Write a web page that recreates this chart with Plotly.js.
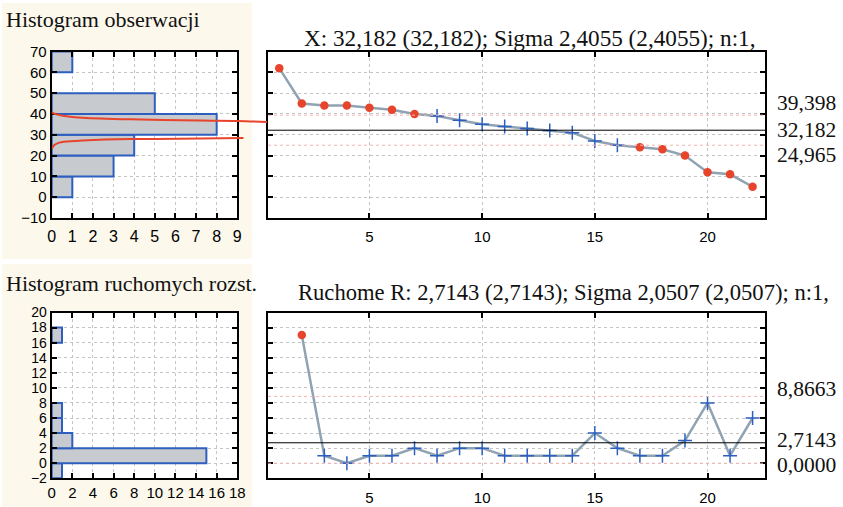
<!DOCTYPE html>
<html>
<head>
<meta charset="utf-8">
<script src="https://cdn.plot.ly/plotly-3.0.1.min.js"></script>
<style>html,body{margin:0;padding:0;background:#fff;}#chart{width:843px;height:507px;}</style>
</head>
<body>
<div id="chart"></div>
<script>
// ---------- data ----------
const sampleNo = [1,2,3,4,5,6,7,8,9,10,11,12,13,14,15,16,17,18,19,20,21,22];
const observations = [62,45,44,44,43,42,40,39,37,35,34,33,32,31,27,25,24,23,20,12,11,5];
const mrSampleNo = [2,3,4,5,6,7,8,9,10,11,12,13,14,15,16,17,18,19,20,21,22];
const movingRanges = [17,1,0,1,1,2,1,2,2,1,1,1,1,4,2,1,1,3,8,1,6];

const obsBinCenters = [5,15,25,35,45,65];
const obsBinCounts  = [1,3,4,8,5,1];
const mrBinCenters  = [-1,1,3,5,7,17];
const mrBinCounts   = [1,15,2,1,1,1];

const curveUpperX = [0,0.1,0.32,0.8,1.5,3.8,7.2,9.0,10.45];
const curveUpperY = [40.9,40.2,39.6,38.8,38.2,37.4,36.8,36.6,36.1];
const curveLowerX = [0,0.1,0.3,0.8,1.5,3.8,7.2,9.3];
const curveLowerY = [23.2,24.8,26.0,26.8,27.2,27.9,28.2,28.4];

const xCenter = 32.182, xUCL = 39.398, xLCL = 24.965;
const rCenter = 2.7143, rUCL = 8.8663, rLCL = 0.0;
const xLabels = ['39,398','32,182','24,965'];
const rLabels = ['8,8663','2,7143','0,0000'];
const titleX = 'X: 32,182 (32,182); Sigma 2,4055 (2,4055); n:1,';
const titleR = 'Ruchome R: 2,7143 (2,7143); Sigma 2,0507 (2,0507); n:1,';

// ---------- geometry ----------
const W = 843, H = 507;
const px = v => v / W;
const py = v => 1 - v / H;
const histX = [px(51.7), px(237.3)];
const ctrlX = [px(268), px(765)];
const topY = [py(218), py(51.5)];
const botY = [py(478.3), py(312.5)];

const RED = '#e8432b', BLUE = '#2c5fbf', LINE = '#8fa3b3', GRID = '#c4c4c4';
const SANS = 'Liberation Sans, Arial, sans-serif';
const SERIF = 'Liberation Serif, Times New Roman, serif';

function axisBase(extra) {
  return Object.assign({
    showline: true, linecolor: '#000', linewidth: 2, mirror: 'ticks',
    ticks: 'inside', ticklen: 5, tickcolor: '#000', tickwidth: 2,
    showgrid: true, gridcolor: GRID, griddash: 'dot', gridwidth: 1,
    zeroline: false, fixedrange: true,
    tickfont: {family: SANS, size: 15, color: '#000'}
  }, extra);
}

function split(xs, ys, lo, hi) {
  const inn = {x: [], y: []}, out = {x: [], y: []};
  xs.forEach((x, i) => {
    const v = ys[i];
    if (v > hi || v < lo) { out.x.push(x); out.y.push(v); }
    else { inn.x.push(x); inn.y.push(v); }
  });
  return {inn, out};
}
const sx = split(sampleNo, observations, xLCL, xUCL);
const sr = split(mrSampleNo, movingRanges, rLCL, rUCL);

const traces = [
  // histograms
  {type: 'bar', orientation: 'h', x: obsBinCounts, y: obsBinCenters, width: 10,
   marker: {color: '#c7cbcf', line: {color: BLUE, width: 2}}, xaxis: 'x', yaxis: 'y', hoverinfo: 'none'},
  {type: 'bar', orientation: 'h', x: mrBinCounts, y: mrBinCenters, width: 2,
   marker: {color: '#c7cbcf', line: {color: BLUE, width: 2}}, xaxis: 'x3', yaxis: 'y3', hoverinfo: 'none'},
  // X chart
  {type: 'scatter', mode: 'lines', x: sampleNo, y: observations, line: {color: LINE, width: 2.5},
   xaxis: 'x2', yaxis: 'y2', hoverinfo: 'none'},
  {type: 'scatter', mode: 'markers', x: sx.inn.x, y: sx.inn.y,
   marker: {symbol: 'cross-thin', size: 10, line: {color: BLUE, width: 1.5}}, xaxis: 'x2', yaxis: 'y2', hoverinfo: 'none'},
  {type: 'scatter', mode: 'markers', x: sx.out.x, y: sx.out.y,
   marker: {symbol: 'circle', size: 8.5, color: RED}, xaxis: 'x2', yaxis: 'y2', hoverinfo: 'none'},
  // R chart
  {type: 'scatter', mode: 'lines', x: mrSampleNo, y: movingRanges, line: {color: LINE, width: 2.5},
   xaxis: 'x4', yaxis: 'y4', hoverinfo: 'none'},
  {type: 'scatter', mode: 'markers', x: sr.inn.x, y: sr.inn.y,
   marker: {symbol: 'cross-thin', size: 10, line: {color: BLUE, width: 1.5}}, xaxis: 'x4', yaxis: 'y4', hoverinfo: 'none'},
  {type: 'scatter', mode: 'markers', x: sr.out.x, y: sr.out.y,
   marker: {symbol: 'circle', size: 8.5, color: RED}, xaxis: 'x4', yaxis: 'y4', hoverinfo: 'none'},
  // normal curve (on an overlay axis so it may spill past the frame)
  {type: 'scatter', mode: 'lines', x: curveUpperX, y: curveUpperY, line: {color: RED, width: 2, shape: 'spline'},
   xaxis: 'x5', yaxis: 'y5', hoverinfo: 'none'},
  {type: 'scatter', mode: 'lines', x: curveLowerX, y: curveLowerY, line: {color: RED, width: 2, shape: 'spline'},
   xaxis: 'x5', yaxis: 'y5', hoverinfo: 'none'}
];

const CREAM = '#fcf8ec';
const LIM = '#f4b4b4';
const shapes = [
  {type: 'rect', xref: 'paper', yref: 'paper', x0: px(2), x1: px(252), y0: py(259), y1: py(3),
   fillcolor: CREAM, line: {width: 0}, layer: 'below'},
  {type: 'rect', xref: 'paper', yref: 'paper', x0: px(2), x1: px(252), y0: 0, y1: py(264),
   fillcolor: CREAM, line: {width: 0}, layer: 'below'},
  {type: 'rect', xref: 'paper', yref: 'paper', x0: histX[0], x1: histX[1], y0: topY[0], y1: topY[1],
   fillcolor: '#fff', line: {width: 0}, layer: 'below'},
  {type: 'rect', xref: 'paper', yref: 'paper', x0: histX[0], x1: histX[1], y0: botY[0], y1: botY[1],
   fillcolor: '#fff', line: {width: 0}, layer: 'below'},
  // control lines
  {type: 'line', xref: 'x2 domain', yref: 'y2', x0: 0, x1: 1, y0: xUCL, y1: xUCL, line: {color: LIM, width: 1, dash: 'dot'}},
  {type: 'line', xref: 'x2 domain', yref: 'y2', x0: 0, x1: 1, y0: xLCL, y1: xLCL, line: {color: LIM, width: 1, dash: 'dot'}},
  {type: 'line', xref: 'x2 domain', yref: 'y2', x0: 0, x1: 1, y0: xCenter, y1: xCenter, line: {color: '#000', width: 1}},
  {type: 'line', xref: 'x4 domain', yref: 'y4', x0: 0, x1: 1, y0: rUCL, y1: rUCL, line: {color: LIM, width: 1, dash: 'dot'}},
  {type: 'line', xref: 'x4 domain', yref: 'y4', x0: 0, x1: 1, y0: rLCL, y1: rLCL, line: {color: LIM, width: 1, dash: 'dot'}},
  {type: 'line', xref: 'x4 domain', yref: 'y4', x0: 0, x1: 1, y0: rCenter, y1: rCenter, line: {color: '#000', width: 1}}
];

const serif = (s) => ({family: SERIF, size: s, color: '#111'});
const annotations = [
  {text: 'Histogram obserwacji', xref: 'paper', yref: 'paper', x: px(4), y: py(20), xanchor: 'left', yanchor: 'middle', showarrow: false, font: serif(22)},
  {text: 'Histogram ruchomych rozst.', xref: 'paper', yref: 'paper', x: px(4), y: py(283), xanchor: 'left', yanchor: 'middle', showarrow: false, font: serif(22)},
  {text: titleX, xref: 'paper', yref: 'paper', x: px(302), y: py(38), xanchor: 'left', yanchor: 'middle', showarrow: false, font: serif(23.2)},
  {text: titleR, xref: 'paper', yref: 'paper', x: px(296), y: py(292), xanchor: 'left', yanchor: 'middle', showarrow: false, font: serif(22.6)},
  {text: xLabels[0], xref: 'paper', yref: 'y2', x: px(775), y: xUCL, yshift: 12, xanchor: 'left', yanchor: 'middle', showarrow: false, font: serif(21.5)},
  {text: xLabels[1], xref: 'paper', yref: 'y2', x: px(775), y: xCenter, yshift: 0, xanchor: 'left', yanchor: 'middle', showarrow: false, font: serif(21.5)},
  {text: xLabels[2], xref: 'paper', yref: 'y2', x: px(775), y: xLCL, yshift: -10, xanchor: 'left', yanchor: 'middle', showarrow: false, font: serif(21.5)},
  {text: rLabels[0], xref: 'paper', yref: 'y4', x: px(775), y: rUCL, yshift: 7, xanchor: 'left', yanchor: 'middle', showarrow: false, font: serif(21.5)},
  {text: rLabels[1], xref: 'paper', yref: 'y4', x: px(775), y: rCenter, yshift: 3, xanchor: 'left', yanchor: 'middle', showarrow: false, font: serif(21.5)},
  {text: rLabels[2], xref: 'paper', yref: 'y4', x: px(775), y: rLCL, yshift: -1.5, xanchor: 'left', yanchor: 'middle', showarrow: false, font: serif(21.5)}
];

const layout = {
  width: W, height: H,
  margin: {l: 0, r: 0, t: 0, b: 0},
  paper_bgcolor: '#fff', plot_bgcolor: 'rgba(0,0,0,0)',
  showlegend: false, bargap: 0,
  xaxis: axisBase({domain: histX, range: [0, 9], dtick: 1, tick0: 0, anchor: 'y', ticklabelstandoff: 3, tickfont: {family: SANS, size: 16, color: '#000'}}),
  yaxis: axisBase({domain: topY, range: [-10, 70], dtick: 10, tick0: 0, anchor: 'x'}),
  xaxis2: axisBase({domain: ctrlX, range: [0.5, 22.55], dtick: 5, tick0: 0, anchor: 'y2', ticklabelstandoff: 4}),
  yaxis2: axisBase({domain: topY, range: [-10, 70], dtick: 10, tick0: 0, anchor: 'x2', showticklabels: false}),
  xaxis3: axisBase({domain: histX, range: [0, 18], dtick: 2, tick0: 0, anchor: 'y3', tickfont: {family: SANS, size: 15, color: '#000'}}),
  yaxis3: axisBase({domain: botY, range: [-2, 20], dtick: 2, tick0: 0, anchor: 'x3', tickfont: {family: SANS, size: 14, color: '#000'}}),
  xaxis4: axisBase({domain: ctrlX, range: [0.5, 22.55], dtick: 5, tick0: 0, anchor: 'y4', ticklabelstandoff: 5}),
  yaxis4: axisBase({domain: botY, range: [-2, 20], dtick: 2, tick0: 0, anchor: 'x4', showticklabels: false}),
  xaxis5: {domain: [histX[0], px(267)], range: [0, 9 * (267 - 51.7) / (237.3 - 51.7)], visible: false, anchor: 'y5', fixedrange: true},
  yaxis5: {domain: topY, range: [-10, 70], visible: false, anchor: 'x5', fixedrange: true},
  shapes: shapes,
  annotations: annotations
};

Plotly.newPlot('chart', traces, layout, {staticPlot: true, displayModeBar: false});
</script>
</body>
</html>
